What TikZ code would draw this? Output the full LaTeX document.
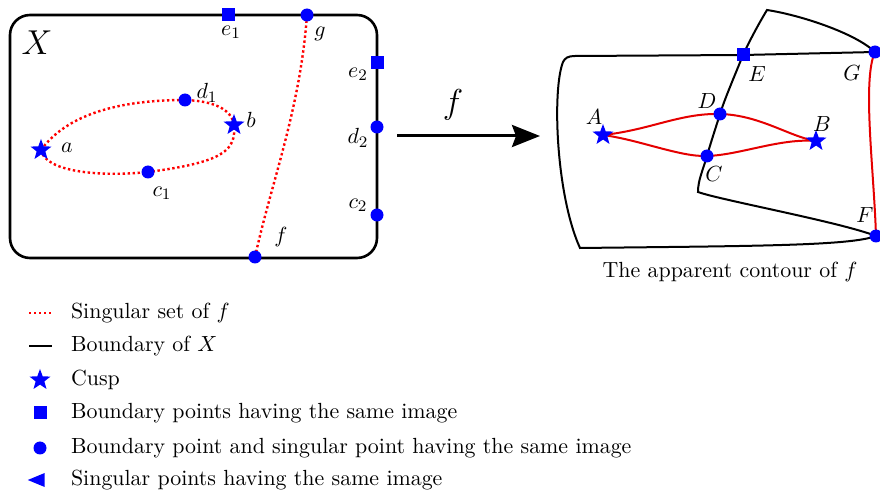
\documentclass[tikz,border=0pt]{standalone}
\usetikzlibrary{shapes.geometric,arrows.meta}
\pgfdeclarelayer{bg}
\pgfsetlayers{bg,main}
\begin{document}
\begin{tikzpicture}[x=0.5pt,y=-0.5pt, font=\fontsize{10.95}{13.6}\selectfont,
		dotpt/.style={circle, fill=blue, inner sep=0pt, minimum size=6.5pt},
		sqpt/.style={rectangle, fill=blue, inner sep=0pt, minimum size=6.5pt},
		cusp/.style={star, star points=5, star point ratio=2.4, fill=blue, inner sep=0pt, minimum size=11pt},
		singl/.style={red, line width=1.2pt, dash pattern=on 1.2pt off 1.3pt},
		contour/.style={red!90!black, line width=1pt},
		bdry/.style={line width=1.3pt},
		sheet/.style={line width=1pt}]
	\useasboundingbox (0,0) rectangle (880,492);

	% the surface X
	\draw[bdry, rounded corners=10pt] (10,15) rectangle (377,258);
	\node (X) at (37,43) {\LARGE $X$};

	\node[sqpt] (e1) at (228,15) {};
	\node[dotpt] (g) at (307,15) {};
	\node[sqpt] (e2) at (377,63) {};
	\node[dotpt] (d2) at (377,127) {};
	\node[dotpt] (c2) at (377,215) {};
	\node[dotpt] (f) at (255,257) {};
	\node[cusp] (a) at (41,150) {};
	\node[cusp] (b) at (234,125) {};
	\node[dotpt] (d1) at (185,100) {};
	\node[dotpt] (c1) at (148,172) {};

	\begin{pgfonlayer}{bg}
		\draw[singl] (a.center) .. controls (70,110) and (130,100) .. (d1.center)
			.. controls (215,101) and (232,110) .. (b.center)
			.. controls (236,150) and (225,162) .. (c1.center)
			.. controls (100,177) and (45,172) .. (a.center);
		\draw[singl] (f.center) .. controls (272,180) and (300,110) .. (g.center);
	\end{pgfonlayer}

	\node (le1) at (231,32) {$e_1$};
	\node (lg) at (320,34) {$g$};
	\node (le2) at (358,74) {$e_2$};
	\node (ld2) at (358,138) {$d_2$};
	\node (lc2) at (358,205) {$c_2$};
	\node (lf) at (281,237) {$f$};
	\node (la) at (67,148) {$a$};
	\node (lb) at (251,120) {$b$};
	\node (ld1) at (207,93) {$d_1$};
	\node (lc1) at (162,193) {$c_1$};

	% the map
	\coordinate (m1) at (397,136);
	\coordinate (m2) at (540,136);
	\draw[line width=1.5pt, -{Stealth[length=14pt, width=11pt, inset=2pt]}] (m1) -- (m2);
	\node (lmap) at (453,105) {\LARGE $f$};

	% the apparent contour
	\node[sqpt] (E) at (743,55) {};
	\node[dotpt] (G) at (875,52) {};
	\node[dotpt] (F) at (876,236) {};
	\node[dotpt] (D) at (720,114) {};
	\node[dotpt] (C) at (707,156) {};
	\node[cusp] (A) at (603,135) {};
	\node[cusp] (B) at (816,141) {};
	\coordinate (t0) at (575,56);
	\coordinate (t1) at (563,62);
	\coordinate (t2) at (580,248);
	\coordinate (s1) at (767,10);
	\coordinate (s2) at (698,192);

	\begin{pgfonlayer}{bg}
		\draw[sheet] (G.center) -- (E.center) -- (t0)
			.. controls (568,56) and (565,58) .. (t1)
			.. controls (552,90) and (556,195) .. (t2)
			.. controls (750,246) and (850,246) .. (F.center);
		\draw[sheet] (G.center) .. controls (855,33) and (800,15) .. (s1)
			.. controls (758,25) and (750,40) .. (E.center)
			.. controls (735,75) and (725,98) .. (D.center)
			.. controls (715,130) and (710,145) .. (C.center)
			.. controls (703,170) and (698,180) .. (s2)
			.. controls (720,200) and (840,222) .. (F.center);
		\draw[contour] (G.center) .. controls (862,80) and (874,170) .. (F.center);
		\draw[contour] (A.center) .. controls (650,130) and (680,113) .. (D.center)
			.. controls (760,115) and (790,137) .. (B.center);
		\draw[contour] (A.center) .. controls (640,140) and (680,157) .. (C.center)
			.. controls (740,155) and (780,138) .. (B.center);
	\end{pgfonlayer}

	\node (lA) at (594,117) {$A$};
	\node (lB) at (822,124) {$B$};
	\node (lD) at (707,101) {$D$};
	\node (lC) at (714,174) {$C$};
	\node (lE) at (757,74) {$E$};
	\node (lG) at (852,73) {$G$};
	\node (lF) at (865,215) {$F$};
	\node (caption) at (730,272) {The apparent contour of $f$};

	% legend
	\coordinate (k1) at (29,313);
	\coordinate (k2) at (52,313);
	\draw[singl] (k1) -- (k2);
	\coordinate (k3) at (29,346);
	\coordinate (k4) at (52,346);
	\draw[bdry] (k3) -- (k4);
	\node[cusp] (kcusp) at (40,380) {};
	\node[sqpt] (ksq) at (40,413) {};
	\node[dotpt] (kdot) at (40,448) {};
	\node[isosceles triangle, shape border rotate=180, fill=blue, inner sep=0pt, minimum size=7pt] (ktri) at (40,480) {};

	\node[anchor=west] (t-sing) at (64,313) {Singular set of $f$};
	\node[anchor=west] (t-bdry) at (64,346) {Boundary of $X$};
	\node[anchor=west] (t-cusp) at (64,380) {Cusp};
	\node[anchor=west] (t-sq) at (64,413) {Boundary points having the same image};
	\node[anchor=west] (t-dot) at (64,448) {Boundary point and singular point having the same image};
	\node[anchor=west] (t-tri) at (64,480) {Singular points having the same image};

\end{tikzpicture}
\end{document}
